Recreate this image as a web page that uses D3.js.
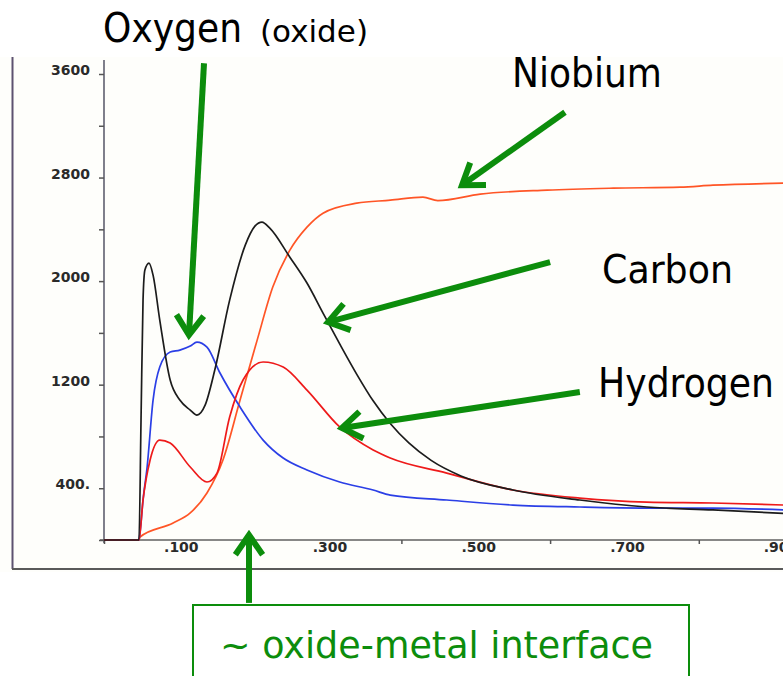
<!DOCTYPE html>
<html>
<head>
<meta charset="utf-8">
<script src="https://cdn.jsdelivr.net/npm/d3@7"></script>
<style>
  body { margin: 0; background: #fff; }
  svg { display: block; }
  .tick text { font-family: "DejaVu Sans", sans-serif; font-weight: bold; font-size: 14px; fill: #2a2a2a; }
  .lbl { font-family: "DejaVu Sans", sans-serif; }
</style>
</head>
<body>
<svg class="chartSVG"></svg>
<script>
// readings: [fraction, counts]
const carbon = [[0,0],[0.047,0],[0.0498,927],[0.0525,1853],[0.055,2085],[0.0605,2139],[0.066,2046],[0.075,1699],
  [0.089,1236],[0.102,1081],[0.116,1004],[0.125,965],[0.136,1042],[0.149,1313],[0.169,1853],[0.19,2278],[0.203,2425],
  [0.2125,2456],[0.223,2409],[0.25,2185],[0.273,1985],[0.2946,1753],[0.317,1515],[0.34,1280],[0.362,1075],[0.385,900],
  [0.41,750],[0.44,615],[0.48,495],[0.55,386],[0.64,309],[0.73,255],[0.819,232],[0.915,205]];
const oxygen = [[0,0],[0.047,0],[0.0484,54],[0.0525,309],[0.058,564],[0.066,1081],[0.075,1336],[0.089,1452],
  [0.102,1467],[0.116,1498],[0.125,1529],[0.1385,1490],[0.156,1290],[0.183,1027],[0.214,772],[0.241,633],[0.273,541],
  [0.317,448],[0.362,386],[0.385,347],[0.461,309],[0.55,270],[0.64,255],[0.73,247],[0.819,247],[0.915,232]];
const hydrogen = [[0,0],[0.047,0],[0.0525,309],[0.062,618],[0.075,772],[0.089,749],[0.116,564],[0.1385,448],
  [0.152,517],[0.169,950],[0.187,1236],[0.214,1375],[0.241,1336],[0.273,1158],[0.317,873],[0.362,695],[0.385,633],
  [0.461,517],[0.55,386],[0.64,324],[0.73,293],[0.819,286],[0.915,270]];
const niobium = [[0,0],[0.047,0],[0.0484,23],[0.093,131],[0.116,209],[0.1385,363],[0.16,618],[0.183,1081],
  [0.206,1544],[0.227,1954],[0.25,2239],[0.273,2417],[0.2946,2525],[0.34,2602],[0.385,2625],[0.429,2649],[0.449,2622],
  [0.506,2672],[0.596,2703],[0.685,2718],[0.775,2726],[0.819,2741],[0.915,2757]];

const yTicks = [0,400,800,1200,1600,2000,2400,2800,3200,3600];
const yLabels = {400:'400.',1200:'1200',2000:'2000',2800:'2800',3600:'3600'};
const xTicks = [0,0.2,0.4,0.6,0.8];
const xLabels = [0.1,0.3,0.5,0.7,0.9];
const xLabelText = ['.100','.300','.500','.700','.90'];

// annotation arrows in data units: from -> tip
const arrows = [
  {from:[0.1345,3683], to:[0.1143,1583]},
  {from:[0.62,3305], to:[0.4815,2741]},
  {from:[0.60,2147], to:[0.3013,1683]},
  {from:[0.64,1143], to:[0.32,865]},
  {from:[0.195,-486], to:[0.195,39]}
];

const width = 783, height = 676;
const green = '#0c8d0c';
const svg = d3.select('.chartSVG').attr('width', width).attr('height', height);

const x = d3.scaleLinear().domain([0, 1]).range([104, 847.5]);
const y = d3.scaleLinear().domain([0, 3600]).range([540, 74]);

// scanned sheet
svg.append('rect').attr('x', 0).attr('y', 57).attr('width', width).attr('height', 515).attr('fill', '#fefefb');
svg.append('line').attr('x1', 12.5).attr('x2', 12.5).attr('y1', 57).attr('y2', 569)
  .attr('stroke', '#5d5270').attr('stroke-width', 2);
svg.append('line').attr('x1', 12).attr('x2', width).attr('y1', 569).attr('y2', 569)
  .attr('stroke', '#5a5a5a').attr('stroke-width', 2);

// axes
svg.append('line').attr('x1', 104).attr('x2', 104).attr('y1', 60).attr('y2', 543)
  .attr('stroke', '#606070').attr('stroke-width', 1.6);
svg.append('line').attr('x1', 100).attr('x2', width).attr('y1', 540).attr('y2', 540)
  .attr('stroke', '#606060').attr('stroke-width', 1.6);

const yAxis = svg.append('g').attr('class', 'yAxis').attr('transform', 'translate(104,0)')
  .call(d3.axisLeft(y).tickValues(yTicks).tickSize(5).tickSizeOuter(0).tickPadding(9)
    .tickFormat(d => yLabels[d] || ''));
yAxis.select('.domain').remove();
yAxis.selectAll('.tick line').attr('stroke', '#555').attr('stroke-width', 1.5);
yAxis.selectAll('.tick text').attr('dy', '0.05em');

const xAxis = svg.append('g').attr('class', 'xAxis').attr('transform', 'translate(0,540)')
  .call(d3.axisBottom(x).tickValues(xTicks).tickSize(4).tickSizeOuter(0).tickFormat(''));
xAxis.select('.domain').remove();
xAxis.selectAll('.tick line').attr('stroke', '#555').attr('stroke-width', 1.5);

svg.append('g').attr('class', 'xLabels').selectAll('text').data(xLabels).enter().append('text')
  .attr('x', d => x(d) + 3).attr('y', 552)
  .attr('text-anchor', 'middle')
  .style('font-family', '"DejaVu Sans", sans-serif').style('font-weight', 'bold')
  .style('font-size', '14px').attr('fill', '#2a2a2a')
  .text((d, i) => xLabelText[i]);

// curves
const line = d3.line().x(d => x(d[0])).y(d => y(d[1])).curve(d3.curveMonotoneX);
const series = [
  {data: niobium, color: '#ff5526'},
  {data: oxygen, color: '#2b3fe6'},
  {data: hydrogen, color: '#ee1a1a'},
  {data: carbon, color: '#1c1c1c'}
];
svg.append('g').selectAll('path').data(series).enter().append('path')
  .attr('d', d => line(d.data))
  .attr('fill', 'none')
  .attr('stroke', d => d.color)
  .attr('stroke-width', 1.7);

// arrows
const arrowG = svg.append('g').attr('stroke', green).attr('fill', 'none').attr('stroke-width', 6);
arrows.forEach(a => {
  const x1 = x(a.from[0]), y1 = y(a.from[1]), x2 = x(a.to[0]), y2 = y(a.to[1]);
  const ang = Math.atan2(y2 - y1, x2 - x1);
  const w = 24, spread = Math.PI / 5.2;
  arrowG.append('line').attr('x1', x1).attr('y1', y1).attr('x2', x2 - 2 * Math.cos(ang)).attr('y2', y2 - 2 * Math.sin(ang));
  arrowG.append('path')
    .attr('stroke-linejoin', 'miter')
    .attr('d', `M${x2 - w * Math.cos(ang - spread)},${y2 - w * Math.sin(ang - spread)}L${x2},${y2}L${x2 - w * Math.cos(ang + spread)},${y2 - w * Math.sin(ang + spread)}`);
});

// interface box
svg.append('rect').attr('x', 193).attr('y', 605).attr('width', 496).attr('height', 100)
  .attr('fill', '#fff').attr('stroke', green).attr('stroke-width', 2);

const labels = [
  {t: 'Oxygen', x: 103, y: 42, w: 139, s: 40, c: '#000'},
  {t: '(oxide)', x: 260, y: 42, w: 108, s: 30, c: '#000'},
  {t: 'Niobium', x: 512, y: 87, w: 150, s: 40, c: '#000'},
  {t: 'Carbon', x: 602, y: 283, w: 131, s: 39, c: '#000'},
  {t: 'Hydrogen', x: 598, y: 397, w: 176, s: 40, c: '#000'},
  {t: '~ oxide-metal interface', x: 220, y: 658, w: 433, s: 38, c: green}
];
svg.append('g').selectAll('text').data(labels).enter().append('text')
  .attr('class', 'lbl')
  .attr('x', d => d.x).attr('y', d => d.y)
  .attr('textLength', d => d.w).attr('lengthAdjust', 'spacingAndGlyphs')
  .style('font-size', d => d.s + 'px')
  .style('fill', d => d.c)
  .text(d => d.t);
</script>
</body>
</html>
